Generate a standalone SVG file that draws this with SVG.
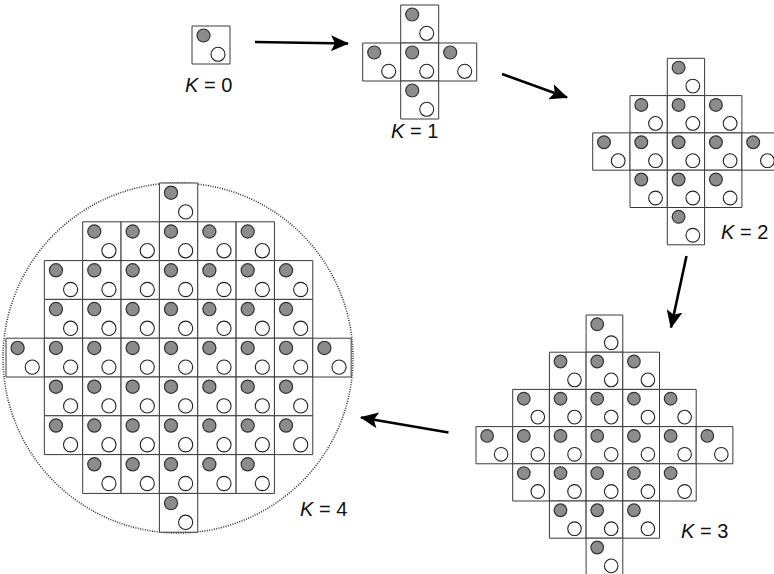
<svg xmlns="http://www.w3.org/2000/svg" width="774" height="574" viewBox="0 0 774 574">
<style>
.box{fill:#fff;stroke:#3a3a3a;stroke-width:1;vector-effect:non-scaling-stroke}
.dot{fill:#8c8c8c;stroke:#333;stroke-width:1.2;vector-effect:non-scaling-stroke}
.hole{fill:#fff;stroke:#222;stroke-width:1.1;vector-effect:non-scaling-stroke}
.lbl{font-family:"Liberation Sans",Arial,sans-serif;font-size:20px;fill:#111}
.arr{stroke:#000;stroke-width:2.6;fill:none}
.ring{fill:none;stroke:#333;stroke-width:1.6;stroke-dasharray:1 1.4}
</style>
<defs>
<g id="cell"><rect class="box" x="0" y="0" width="38" height="38"/><circle class="dot" cx="11.5" cy="9.5" r="6.5"/><circle class="hole" cx="26" cy="28.3" r="7"/></g>
<marker id="ah" markerUnits="userSpaceOnUse" markerWidth="18" markerHeight="16" viewBox="0 0 18 16" refX="17" refY="8" orient="auto"><path d="M0,0 L18,8 L0,16 L4,8 Z" fill="#000"/></marker>
</defs>
<rect width="774" height="574" fill="#fff"/>
<g id="k0">
<use href="#cell" x="192" y="26"/>
<text class="lbl" x="185" y="91.5"><tspan font-style="italic">K</tspan> = 0</text>
</g>
<g id="k1">
<g transform="translate(362.7,5)">
<use href="#cell" x="38" y="0"/>
<use href="#cell" x="0" y="38"/><use href="#cell" x="38" y="38"/><use href="#cell" x="76" y="38"/>
<use href="#cell" x="38" y="76"/>
</g>
<text class="lbl" x="391" y="138"><tspan font-style="italic">K</tspan> = 1</text>
</g>
<g id="k2">
<g transform="translate(592.7,58.3) scale(0.9816)">
<use href="#cell" x="76" y="0"/>
<use href="#cell" x="38" y="38"/><use href="#cell" x="76" y="38"/><use href="#cell" x="114" y="38"/>
<use href="#cell" x="0" y="76"/><use href="#cell" x="38" y="76"/><use href="#cell" x="76" y="76"/><use href="#cell" x="114" y="76"/><use href="#cell" x="152" y="76"/>
<use href="#cell" x="38" y="114"/><use href="#cell" x="76" y="114"/><use href="#cell" x="114" y="114"/>
<use href="#cell" x="76" y="152"/>
</g>
<text class="lbl" x="721" y="239"><tspan font-style="italic">K</tspan> = 2</text>
</g>
<g id="k3">
<g transform="translate(476,315) scale(0.9658,0.9789)">
<use href="#cell" x="114" y="0"/>
<use href="#cell" x="76" y="38"/><use href="#cell" x="114" y="38"/><use href="#cell" x="152" y="38"/>
<use href="#cell" x="38" y="76"/><use href="#cell" x="76" y="76"/><use href="#cell" x="114" y="76"/><use href="#cell" x="152" y="76"/><use href="#cell" x="190" y="76"/>
<use href="#cell" x="0" y="114"/><use href="#cell" x="38" y="114"/><use href="#cell" x="76" y="114"/><use href="#cell" x="114" y="114"/><use href="#cell" x="152" y="114"/><use href="#cell" x="190" y="114"/><use href="#cell" x="228" y="114"/>
<use href="#cell" x="38" y="152"/><use href="#cell" x="76" y="152"/><use href="#cell" x="114" y="152"/><use href="#cell" x="152" y="152"/><use href="#cell" x="190" y="152"/>
<use href="#cell" x="76" y="190"/><use href="#cell" x="114" y="190"/><use href="#cell" x="152" y="190"/>
<use href="#cell" x="114" y="228"/>
</g>
<text class="lbl" x="681" y="537.5"><tspan font-style="italic">K</tspan> = 3</text>
</g>
<g id="k4">
<circle class="ring" cx="178" cy="358" r="175"/>
<g transform="translate(6,183) scale(1.0092,1.0211)">
<use href="#cell" x="152" y="0"/>
<use href="#cell" x="76" y="38"/><use href="#cell" x="114" y="38"/><use href="#cell" x="152" y="38"/><use href="#cell" x="190" y="38"/><use href="#cell" x="228" y="38"/>
<use href="#cell" x="38" y="76"/><use href="#cell" x="76" y="76"/><use href="#cell" x="114" y="76"/><use href="#cell" x="152" y="76"/><use href="#cell" x="190" y="76"/><use href="#cell" x="228" y="76"/><use href="#cell" x="266" y="76"/>
<use href="#cell" x="38" y="114"/><use href="#cell" x="76" y="114"/><use href="#cell" x="114" y="114"/><use href="#cell" x="152" y="114"/><use href="#cell" x="190" y="114"/><use href="#cell" x="228" y="114"/><use href="#cell" x="266" y="114"/>
<use href="#cell" x="0" y="152"/><use href="#cell" x="38" y="152"/><use href="#cell" x="76" y="152"/><use href="#cell" x="114" y="152"/><use href="#cell" x="152" y="152"/><use href="#cell" x="190" y="152"/><use href="#cell" x="228" y="152"/><use href="#cell" x="266" y="152"/><use href="#cell" x="304" y="152"/>
<use href="#cell" x="38" y="190"/><use href="#cell" x="76" y="190"/><use href="#cell" x="114" y="190"/><use href="#cell" x="152" y="190"/><use href="#cell" x="190" y="190"/><use href="#cell" x="228" y="190"/><use href="#cell" x="266" y="190"/>
<use href="#cell" x="38" y="228"/><use href="#cell" x="76" y="228"/><use href="#cell" x="114" y="228"/><use href="#cell" x="152" y="228"/><use href="#cell" x="190" y="228"/><use href="#cell" x="228" y="228"/><use href="#cell" x="266" y="228"/>
<use href="#cell" x="76" y="266"/><use href="#cell" x="114" y="266"/><use href="#cell" x="152" y="266"/><use href="#cell" x="190" y="266"/><use href="#cell" x="228" y="266"/>
<use href="#cell" x="152" y="304"/>
</g>
<text class="lbl" x="300" y="515.5"><tspan font-style="italic">K</tspan> = 4</text>
</g>
<g id="connectors">
<line class="arr" x1="255" y1="42" x2="348" y2="43.5" marker-end="url(#ah)"/>
<line class="arr" x1="502" y1="74" x2="567" y2="97.5" marker-end="url(#ah)"/>
<line class="arr" x1="686.5" y1="256" x2="671" y2="327.5" marker-end="url(#ah)"/>
<line class="arr" x1="448.5" y1="432.5" x2="361" y2="417.5" marker-end="url(#ah)"/>
</g>
</svg>
